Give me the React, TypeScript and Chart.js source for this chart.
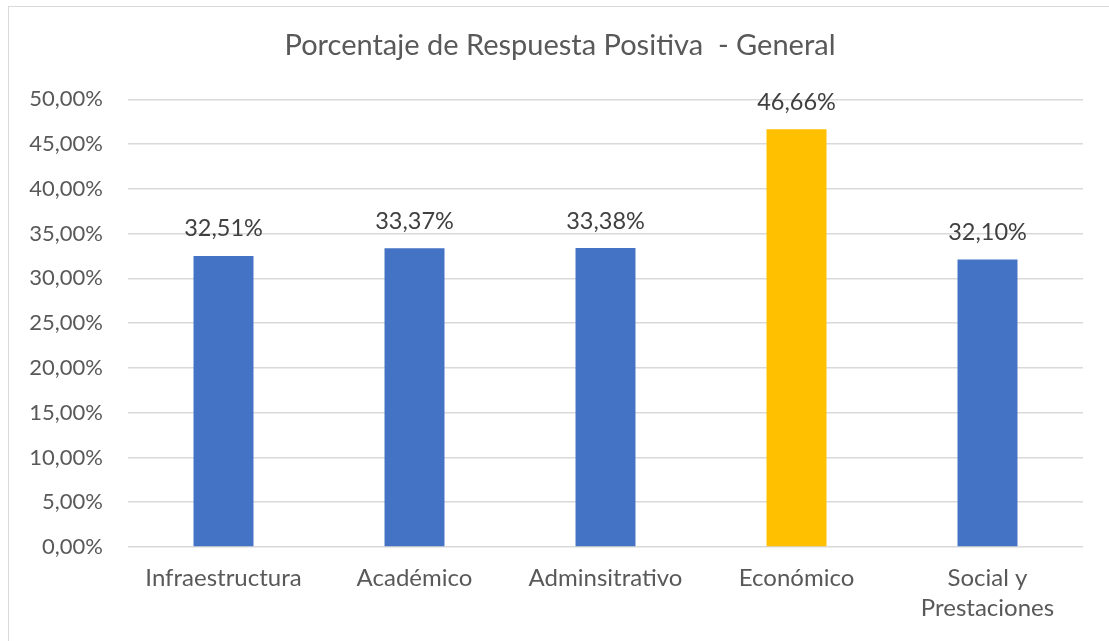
import React, { useEffect, useRef } from "react";
import { Chart, registerables } from "chart.js";

Chart.register(...registerables);

const categories: (string | string[])[] = [
  "Infraestructura",
  "Académico",
  "Adminsitrativo",
  "Económico",
  ["Social y", "Prestaciones"],
];
const values: number[] = [32.51, 33.37, 33.38, 46.66, 32.1];
const barColors: string[] = ["#4472C4", "#4472C4", "#4472C4", "#FFC000", "#4472C4"];
const yTicks: number[] = [0, 5, 10, 15, 20, 25, 30, 35, 40, 45, 50];
const titleText = "Porcentaje de Respuesta Positiva  - General";

const FONT = "Lato, 'Open Sans', sans-serif";
const TEXT = "#595959";

const fmt = (v: number, d: number) => v.toFixed(d).replace(".", ",") + "%";

const labelPlugin = {
  id: "barLabels",
  afterDatasetsDraw(chart: any) {
    const ctx = chart.ctx;
    const meta = chart.getDatasetMeta(0);
    ctx.save();
    ctx.font = `23.5px ${FONT}`;
    ctx.fillStyle = "#404040";
    ctx.textAlign = "center";
    ctx.textBaseline = "middle";
    meta.data.forEach((el: any, i: number) => {
      ctx.fillText(fmt(values[i], 2), el.x, el.y - 27);
    });
    ctx.restore();
  },
};

export default function App() {
  const ref = useRef<HTMLCanvasElement>(null);
  useEffect(() => {
    if (!ref.current) return;
    const chart = new Chart(ref.current, {
      type: "bar",
      data: {
        labels: categories,
        datasets: [
          {
            data: values,
            backgroundColor: barColors,
            borderWidth: 0,
            categoryPercentage: 1,
            barPercentage: 0.314,
          },
        ],
      },
      options: {
        responsive: false,
        animation: false,
        devicePixelRatio: 1,
        layout: { padding: { left: 20, right: 9, top: 0, bottom: 0 } },
        plugins: {
          legend: { display: false },
          tooltip: { enabled: false },
          title: {
            display: true,
            text: titleText,
            color: TEXT,
            font: { family: FONT, size: 29, weight: "normal" },
            padding: { top: 28, bottom: 36.5 },
          },
        },
        scales: {
          x: {
            grid: { display: false, drawTicks: false },
            border: { display: false },
            ticks: {
              color: TEXT,
              font: { family: FONT, size: 24, lineHeight: 1.25 },
              padding: 16,
              maxRotation: 0,
              autoSkip: false,
            },
            afterFit: (s: any) => {
              s.height = 94;
            },
          },
          y: {
            min: 0,
            max: 50,
            afterBuildTicks: (s: any) => {
              s.ticks = yTicks.map((v) => ({ value: v }));
            },
            grid: { color: "#d9d9d9", lineWidth: 1.5, drawTicks: false },
            border: { display: false },
            ticks: {
              color: TEXT,
              font: { family: FONT, size: 22 },
              padding: 25,
              callback: (v: any) => fmt(Number(v), 2),
            },
            afterFit: (s: any) => {
              s.width = 108;
            },
          },
          spacer: {
            position: "right",
            display: true,
            grid: { display: false, drawTicks: false },
            border: { display: false },
            ticks: { display: false },
            afterFit: (s: any) => {
              s.width = 17;
            },
          },
        },
      },
      plugins: [labelPlugin],
    });
    return () => chart.destroy();
  }, []);
  return (
    <div
      style={{
        position: "fixed",
        left: 0,
        top: 0,
        width: 1109,
        height: 641,
        overflow: "hidden",
        background: "#fff",
      }}
    >
      <div
        style={{
          position: "absolute",
          left: 8,
          top: 6,
          width: 1200,
          height: 700,
          border: "1.5px solid #d9d9d9",
        }}
      />
      <canvas
        ref={ref}
        width={1109}
        height={641}
        style={{ position: "absolute", left: 0, top: 0, width: 1109, height: 641 }}
      />
    </div>
  );
}
